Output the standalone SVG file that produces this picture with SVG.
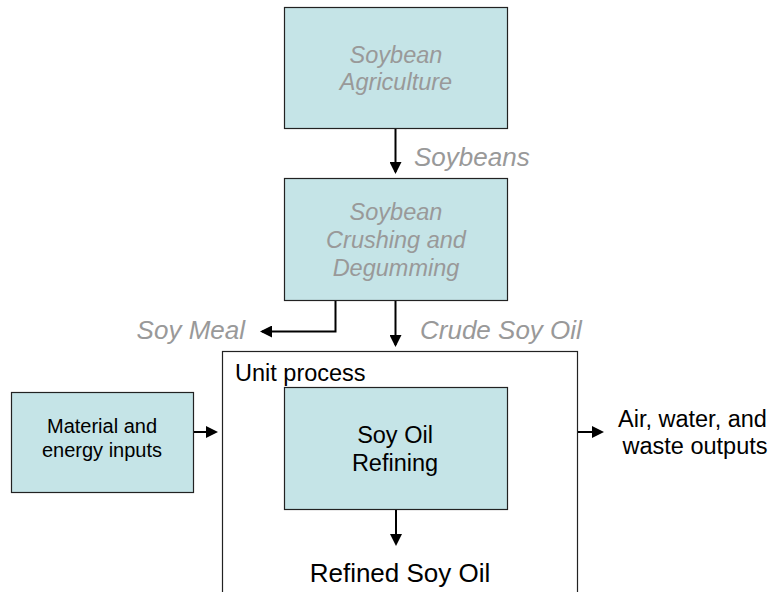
<svg xmlns="http://www.w3.org/2000/svg" width="771" height="592" viewBox="0 0 771 592">
<style>
.box{fill:#c5e4e7;stroke:#222;stroke-width:1.2}
.frame{fill:none;stroke:#222;stroke-width:1.2}
.gi{font-family:"Liberation Sans",Arial,sans-serif;font-style:italic;fill:#999;text-anchor:middle}
.bl{font-family:"Liberation Sans",Arial,sans-serif;fill:#000;text-anchor:middle}
.ar{fill:none;stroke:#000;stroke-width:2;marker-end:url(#ah)}
</style>
<defs>
<marker id="ah" markerWidth="6" markerHeight="6" refX="5" refY="3" orient="auto" markerUnits="strokeWidth">
<path d="M0,0 L6,3 L0,6 Z" fill="#000"/>
</marker>
</defs>
<rect width="771" height="592" fill="#fff"/>
<g id="unit-process">
<rect class="frame" x="222.5" y="351.5" width="355" height="250"/>
<text x="235" y="381" font-family="Liberation Sans,Arial,sans-serif" font-size="23.5" fill="#000">Unit process</text>
</g>
<g id="agriculture">
<rect class="box" x="284.5" y="7.5" width="223" height="121"/>
<text class="gi" font-size="23.5" x="396" y="63">Soybean</text>
<text class="gi" font-size="23.5" x="396" y="90">Agriculture</text>
</g>
<g id="crushing">
<rect class="box" x="284.5" y="178.5" width="223" height="122"/>
<text class="gi" font-size="23.5" x="396" y="220">Soybean</text>
<text class="gi" font-size="23.5" x="396" y="248">Crushing and</text>
<text class="gi" font-size="23.5" x="396" y="276">Degumming</text>
</g>
<g id="material">
<rect class="box" x="11.5" y="392.5" width="182" height="100"/>
<text class="bl" font-size="20" x="102" y="433">Material and</text>
<text class="bl" font-size="20" x="102" y="457">energy inputs</text>
</g>
<g id="refining">
<rect class="box" x="284.5" y="387.5" width="223" height="122"/>
<text class="bl" font-size="23.5" x="395" y="443">Soy Oil</text>
<text class="bl" font-size="23.5" x="395" y="471">Refining</text>
</g>
<g id="labels">
<text class="gi" font-size="26" x="414" y="166" style="text-anchor:start">Soybeans</text>
<text class="gi" font-size="26" x="420" y="339" style="text-anchor:start">Crude Soy Oil</text>
<text class="gi" font-size="26" x="245" y="339" style="text-anchor:end">Soy Meal</text>
<text class="bl" font-size="23.5" x="618" y="427" style="text-anchor:start">Air, water, and</text>
<text class="bl" font-size="23.5" x="695" y="454">waste outputs</text>
<text class="bl" font-size="26" x="400" y="582">Refined Soy Oil</text>
</g>
<g id="connectors">
<path class="ar" d="M395.5,129 V172"/>
<path class="ar" d="M395.5,301 V345"/>
<path d="M335.5,301 V331.5 H262" fill="none" stroke="#000" stroke-width="2" marker-end="url(#ah)"/>
<path class="ar" d="M194,432 H216"/>
<path class="ar" d="M578,432 H602"/>
<path class="ar" d="M396,510 V544"/>
</g>
</svg>
